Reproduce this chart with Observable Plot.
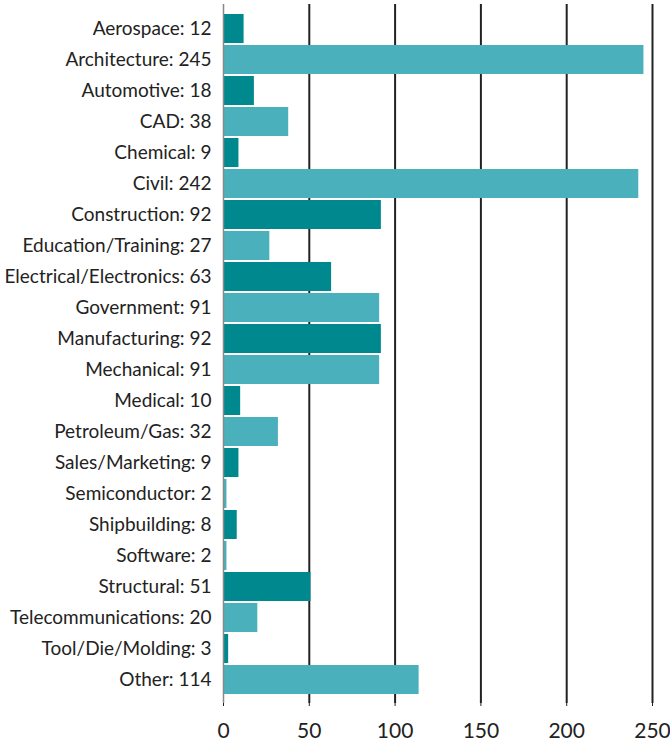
<!DOCTYPE html>
<html>
<head>
<meta charset="utf-8">
<script src="https://cdn.jsdelivr.net/npm/d3@7"></script>
<script src="https://cdn.jsdelivr.net/npm/@observablehq/plot@0.6"></script>
<style>
  html, body { margin: 0; padding: 0; background: #fff; }
</style>
</head>
<body>
<div id="chart"></div>
<script>
const categories = ["Aerospace","Architecture","Automotive","CAD","Chemical","Civil","Construction","Education/Training","Electrical/Electronics","Government","Manufacturing","Mechanical","Medical","Petroleum/Gas","Sales/Marketing","Semiconductor","Shipbuilding","Software","Structural","Telecommunications","Tool/Die/Molding","Other"];
const values = [12,245,18,38,9,242,92,27,63,91,92,91,10,32,9,2,8,2,51,20,3,114];
const xTicks = [0,50,100,150,200,250];
const colors = ["#00888f","#4ab0bc"];

const data = categories.map((c, i) => ({category: c, value: values[i], fill: colors[i % 2]}));
const labelOf = new Map(categories.map((c, i) => [c, `${c}: ${values[i]}`]));

const chart = Plot.plot({
  width: 670,
  height: 746,
  marginLeft: 223,
  marginRight: 18,
  marginTop: 4,
  marginBottom: 43,
  style: {fontFamily: "Lato", color: "#222", background: "#fff"},
  x: {domain: [0, 250]},
  y: {domain: categories, paddingInner: 0.07, paddingOuter: 0.22},
  color: {type: "identity"},
  marks: [
    Plot.ruleX(xTicks.slice(1), {stroke: "#222", strokeWidth: 2}),
    Plot.barX(data, {x: "value", y: "category", fill: "fill"}),
    Plot.ruleX([0], {stroke: "#888", strokeWidth: 1.5}),
    Plot.axisX({ticks: xTicks, tickSize: 3, tickPadding: 17, fontSize: 21, label: null, stroke: "#222"}),
    Plot.axisY({tickSize: 0, tickPadding: 12, fontSize: 19, label: null, tickFormat: c => labelOf.get(c)})
  ]
});
document.getElementById("chart").appendChild(chart);
</script>
</body>
</html>
